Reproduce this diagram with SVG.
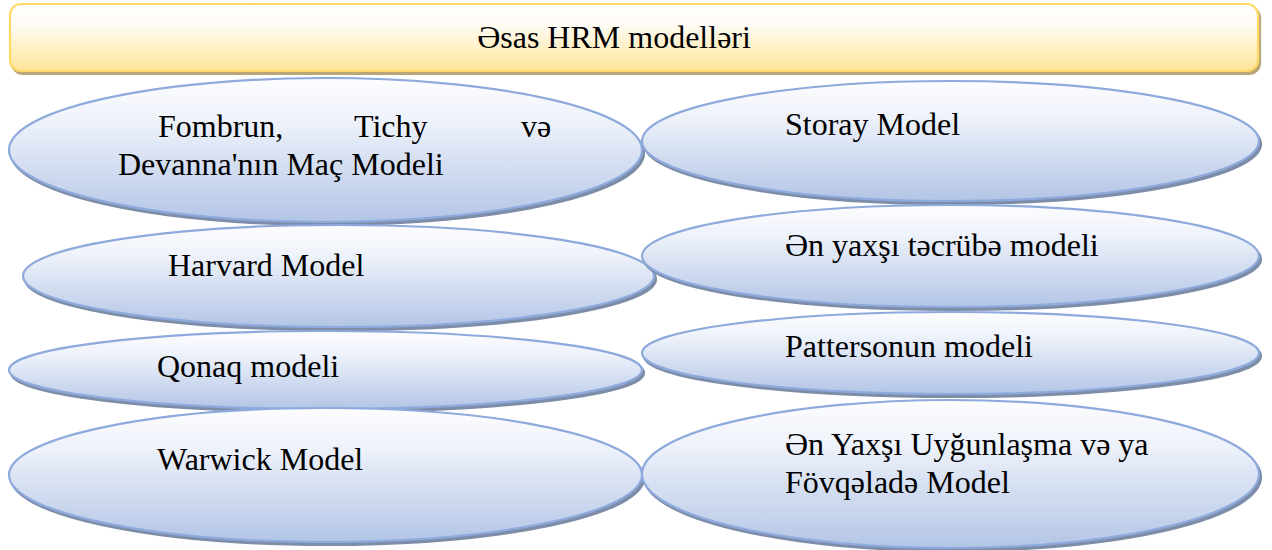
<svg xmlns="http://www.w3.org/2000/svg" width="1272" height="550" viewBox="0 0 1272 550">
  <defs>
    <linearGradient id="gBlue" x1="0" y1="0" x2="0" y2="1">
      <stop offset="0" stop-color="#FDFDFF"/>
      <stop offset="0.3" stop-color="#EEF2FA"/>
      <stop offset="1" stop-color="#B3C5E6"/>
    </linearGradient>
    <linearGradient id="gGold" x1="0" y1="0" x2="0" y2="1">
      <stop offset="0" stop-color="#FFFFFF"/>
      <stop offset="0.3" stop-color="#FFFCF6"/>
      <stop offset="1" stop-color="#FFE597"/>
    </linearGradient>
    <filter id="shBlue" x="-5%" y="-10%" width="110%" height="125%">
      <feDropShadow dx="2" dy="3" stdDeviation="0.6" flood-color="#7D8DA8" flood-opacity="1"/>
    </filter>
    <filter id="shGold" x="-5%" y="-10%" width="110%" height="130%">
      <feDropShadow dx="2" dy="3" stdDeviation="0.6" flood-color="#BBA679" flood-opacity="1"/>
    </filter>
  </defs>
  <style>
    .oval { fill: url(#gBlue); stroke: #8EAADC; stroke-width: 2.2; filter: url(#shBlue); }
    .hdr { fill: url(#gGold); stroke: #FFD966; stroke-width: 2.2; filter: url(#shGold); }
    .t { font-family: "Liberation Serif", "Times New Roman", serif; font-size: 32px; fill: #000000; }
  </style>
  <rect width="1272" height="550" fill="#FFFFFF"/>

  <g id="header">
    <rect class="hdr" x="10" y="4" width="1248" height="67" rx="11" ry="11"/>
    <text class="t" x="614" y="48" text-anchor="middle">Əsas HRM modelləri</text>
  </g>

  <g id="connectors"></g>

  <g id="node-fombrun">
    <ellipse class="oval" cx="325.5" cy="150" rx="316.5" ry="72"/>
    <text class="t" y="137"><tspan x="158">Fombrun,</tspan><tspan x="354">Tichy</tspan><tspan x="521">və</tspan></text>
    <text class="t" x="118" y="175">Devanna'nın Maç Modeli</text>
  </g>

  <g id="node-storay">
    <ellipse class="oval" cx="950.5" cy="141" rx="308.5" ry="60"/>
    <text class="t" x="785" y="135">Storay Model</text>
  </g>

  <g id="node-harvard">
    <ellipse class="oval" cx="338.5" cy="276" rx="315.5" ry="51"/>
    <text class="t" x="168" y="276">Harvard Model</text>
  </g>

  <g id="node-best-practice">
    <ellipse class="oval" cx="950.5" cy="256" rx="308.5" ry="51"/>
    <text class="t" x="785" y="256">Ən yaxşı təcrübə modeli</text>
  </g>

  <g id="node-qonaq">
    <ellipse class="oval" cx="325.5" cy="370" rx="316.5" ry="39"/>
    <text class="t" x="157" y="377">Qonaq modeli</text>
  </g>

  <g id="node-patterson">
    <ellipse class="oval" cx="950.5" cy="353" rx="308.5" ry="41"/>
    <text class="t" x="785" y="357">Pattersonun modeli</text>
  </g>

  <g id="node-warwick">
    <ellipse class="oval" cx="325.5" cy="475" rx="316.5" ry="67"/>
    <text class="t" x="157" y="470">Warwick Model</text>
  </g>

  <g id="node-best-fit">
    <ellipse class="oval" cx="950.5" cy="474" rx="308.5" ry="74"/>
    <text class="t" x="785" y="455">Ən Yaxşı Uyğunlaşma və ya</text>
    <text class="t" x="785" y="493">Fövqəladə Model</text>
  </g>
</svg>
